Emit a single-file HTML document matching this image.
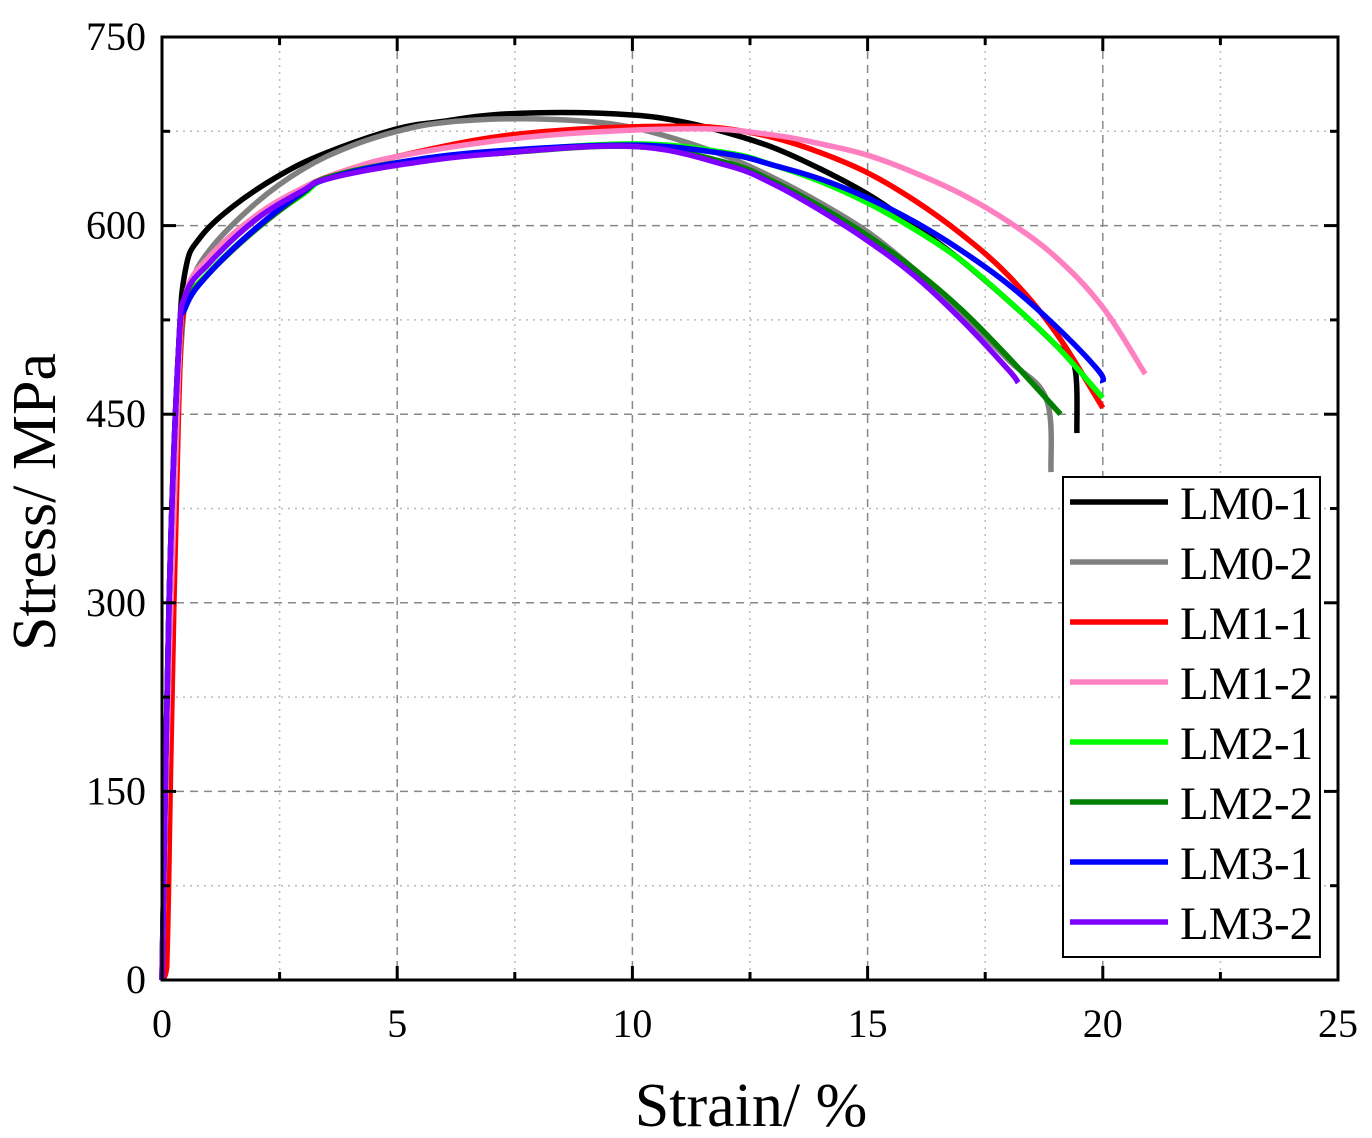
<!DOCTYPE html>
<html><head><meta charset="utf-8"><style>
html,body{margin:0;padding:0;background:#fff}
svg{display:block;font-family:"Liberation Serif",serif}
</style></head><body>
<svg id="chart" width="1372" height="1138" viewBox="0 0 1372 1138"></svg>
<script>
const xTicks=[0,5,10,15,20,25];
const yTicks=[0,150,300,450,600,750];
const seriesNames=["LM0-1","LM0-2","LM1-1","LM1-2","LM2-1","LM2-2","LM3-1","LM3-2"];
const seriesColors=["#000000","#808080","#ff0000","#ff80c0","#00ff00","#008000","#0000ff","#8000ff"];
const lm01=[[0,0],[0.15,300],[0.35,500],[0.5,565],[0.8,590],[1.5,615],[2.5,640],[3.5,658],[5,677],[6,683],[7,688],[8.5,690],[10,688],[11,683],[12,674],[13,662],[14,645],[15,625],[16,600],[17,572],[18,540],[19,505],[19.4,488],[19.45,435]];
const lm02=[[0,0],[0.2,300],[0.4,500],[0.6,550],[1,580],[2,618],[3,645],[4,663],[5,675],[6,682],[7.5,685],[9,683],[10,678],[11,668],[12,655],[13,638],[14,618],[15,595],[16,565],[17,530],[18,493],[18.8,462],[18.9,404]];
const lm11=[[0,0],[0.1,10],[0.2,200],[0.35,450],[0.5,540],[1,570],[2,605],[3,630],[4,645],[5,655],[7,670],[9,677],[11,679],[12,677],[13,670],[14,658],[15,642],[16,620],[17,593],[18,560],[19,515],[20,455]];
const lm12=[[0,0],[0.15,250],[0.35,480],[0.5,545],[1,575],[2,608],[3,630],[4,645],[5,655],[7,667],[9,674],[11.5,677],[13,672],[14,665],[15,656],[16,642],[17,625],[18,603],[19,575],[20,535],[20.9,482]];
const lm21=[[0,0],[0.15,300],[0.35,500],[0.5,538],[1,563],[2,598],[3,625],[3.5,637],[5,650],[7,658],[10,665],[12,658],[13,648],[14,635],[15,618],[16,597],[17,572],[18,540],[19,505],[20,463]];
const lm22=[[0,0],[0.15,300],[0.35,500],[0.5,537],[1,562],[2,597],[3,626],[3.5,638],[5,650],[7,657],[10,663],[12,650],[13,635],[14,615],[15,592],[16,565],[17,533],[18,495],[19.1,450]];
const lm31=[[0,0],[0.15,300],[0.35,500],[0.5,535],[1,562],[2,598],[3,627],[3.5,637],[5,650],[7,659],[10,664],[12,657],[13,648],[14,637],[15,622],[16,603],[17,580],[18,553],[19,520],[19.9,485],[20,475]];
const lm32=[[0,0],[0.15,300],[0.35,500],[0.5,545],[1,570],[2,605],[3,628],[3.5,637],[5,648],[7,657],[10,663],[12,648],[13,633],[14,612],[15,588],[16,560],[17,525],[18,485],[18.2,475]];
const seriesData=[lm01,lm02,lm11,lm12,lm21,lm22,lm31,lm32];

const L=162,R=1338,T=37,B=980,xmax=25,ymax=750;
const X=v=>L+(R-L)*v/xmax, Y=v=>B-(B-T)*v/ymax;
const svg=document.getElementById('chart');
const NS="http://www.w3.org/2000/svg";
function mk(tag,attrs,parent){const e=document.createElementNS(NS,tag);for(const k in attrs)e.setAttribute(k,attrs[k]);(parent||svg).appendChild(e);return e;}

for(let i=0;i<xTicks.length-1;i++){
  const maj=xTicks[i], mid=(xTicks[i]+xTicks[i+1])/2;
  if(maj>0){const g=mk('line',{x1:X(maj),x2:X(maj),y1:T,y2:B,stroke:'#888','stroke-width':1.5,'stroke-dasharray':'8 6'});
  
  }
  const m=mk('line',{x1:X(mid),x2:X(mid),y1:T,y2:B,stroke:'#bbb','stroke-width':1.5,'stroke-dasharray':'2 5'});
  
  
}
for(let i=0;i<yTicks.length-1;i++){
  const maj=yTicks[i], mid=(yTicks[i]+yTicks[i+1])/2;
  if(maj>0){const g=mk('line',{x1:L,x2:R,y1:Y(maj),y2:Y(maj),stroke:'#888','stroke-width':1.5,'stroke-dasharray':'8 6'});
  
  }
  const m=mk('line',{x1:L,x2:R,y1:Y(mid),y2:Y(mid),stroke:'#bbb','stroke-width':1.5,'stroke-dasharray':'2 5'});
  
  
}

function smooth(pts){
  const p=pts.map(d=>[X(d[0]),Y(d[1])]);
  let s=`M${p[0][0]},${p[0][1]}`;
  for(let i=0;i<p.length-1;i++){
    const p0=p[i-1]||p[i],p1=p[i],p2=p[i+1],p3=p[i+2]||p2;
    const t=0.18;
    const c1=[p1[0]+(p2[0]-p0[0])*t,Math.min(B,p1[1]+(p2[1]-p0[1])*t)];
    const c2=[p2[0]-(p3[0]-p1[0])*t,Math.min(B,p2[1]-(p3[1]-p1[1])*t)];
    s+=` C${c1[0]},${c1[1]} ${c2[0]},${c2[1]} ${p2[0]},${p2[1]}`;
  }
  return s;
}
seriesData.forEach((d,i)=>{
  const pth=mk('path',{d:smooth(d),fill:'none',stroke:seriesColors[i],'stroke-width':5.5,'stroke-linejoin':'round'});
  
  
});

const fr=mk('rect',{x:L,y:T,width:R-L,height:B-T,fill:'none',stroke:'#000','stroke-width':3});



xTicks.forEach((v,i)=>{
  mk('line',{x1:X(v),x2:X(v),y1:B,y2:B-14,stroke:'#000','stroke-width':3});
  mk('line',{x1:X(v),x2:X(v),y1:T,y2:T+14,stroke:'#000','stroke-width':3});
  if(i<xTicks.length-1){const m=(v+xTicks[i+1])/2;
    mk('line',{x1:X(m),x2:X(m),y1:B,y2:B-8,stroke:'#000','stroke-width':3});
    mk('line',{x1:X(m),x2:X(m),y1:T,y2:T+8,stroke:'#000','stroke-width':3});}
  const t=mk('text',{x:X(v),y:B+57,'text-anchor':'middle','font-size':40});
  t.textContent=v;
  
  
});
yTicks.forEach((v,i)=>{
  mk('line',{x1:L,x2:L+14,y1:Y(v),y2:Y(v),stroke:'#000','stroke-width':3});
  mk('line',{x1:R,x2:R-14,y1:Y(v),y2:Y(v),stroke:'#000','stroke-width':3});
  if(i<yTicks.length-1){const m=(v+yTicks[i+1])/2;
    mk('line',{x1:L,x2:L+8,y1:Y(m),y2:Y(m),stroke:'#000','stroke-width':3});
    mk('line',{x1:R,x2:R-8,y1:Y(m),y2:Y(m),stroke:'#000','stroke-width':3});}
  const t=mk('text',{x:L-16,y:Y(v)+13,'text-anchor':'end','font-size':40});
  t.textContent=v;
  
  
});
const xt=mk('text',{x:751,y:1126,'text-anchor':'middle','font-size':62});
xt.textContent='Strain/ %';


const yt=mk('text',{x:0,y:0,'text-anchor':'middle','font-size':62,transform:'translate(55,502) rotate(-90)'});
yt.textContent='Stress/ MPa';



const lg=mk('g',{});


mk('rect',{x:1063,y:477,width:257,height:480,fill:'#fff',stroke:'#000','stroke-width':2},lg);
seriesNames.forEach((n,i)=>{
  const y=502+i*60;
  const e=mk('g',{},lg);
  
  
  mk('line',{x1:1070,x2:1168,y1:y,y2:y,stroke:seriesColors[i],'stroke-width':5.5},e);
  const t=mk('text',{x:1180,y:y+17,'font-size':47},e);
  t.textContent=n;
});
</script>
</body></html>
